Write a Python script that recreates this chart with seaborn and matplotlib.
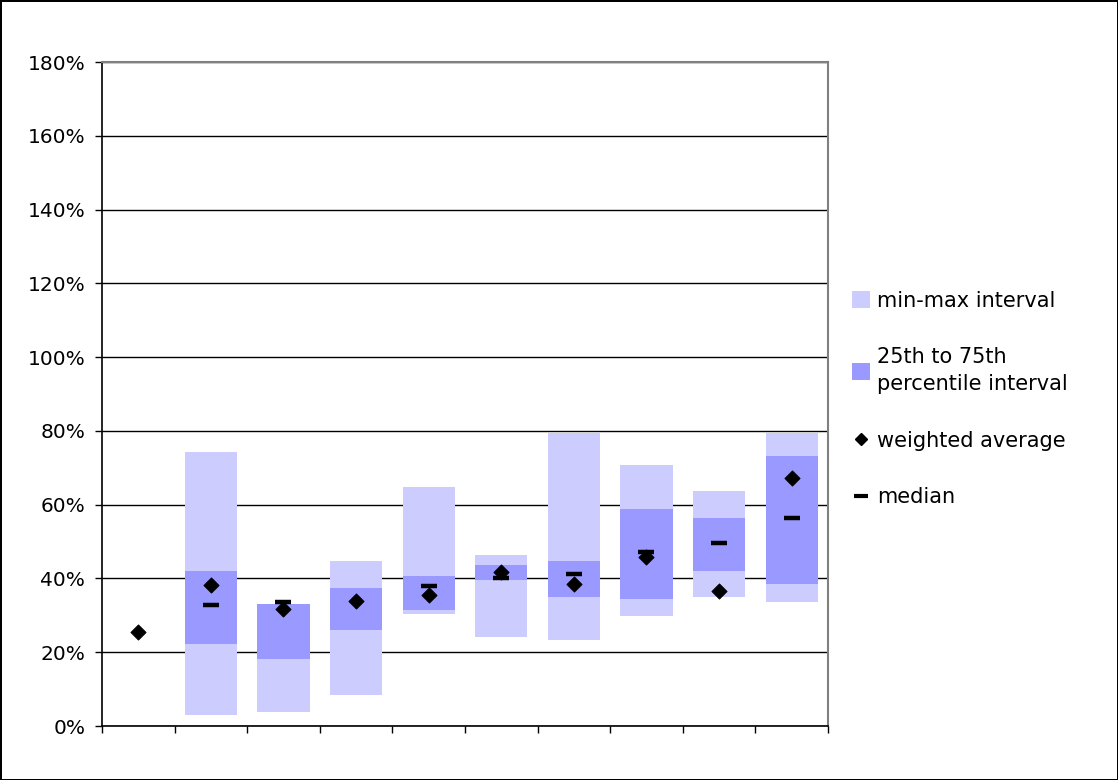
# Floating interval chart: min-max and interquartile ranges with weighted average and median
import numpy as np
import pandas as pd
import seaborn as sns
import matplotlib.pyplot as plt
from matplotlib.patches import Patch
from matplotlib.lines import Line2D
from matplotlib.ticker import PercentFormatter

# values, in percent (NaN = not drawn)
categories = ["c1", "c2", "c3", "c4", "c5", "c6", "c7", "c8", "c9", "c10"]
min_vals = [np.nan, 3.1, 3.8, 8.5, 30.5, 24.0, 23.4, 29.7, 35.1, 33.7]
max_vals = [np.nan, 74.4, 33.1, 44.8, 64.9, 46.4, 79.3, 70.8, 63.8, 79.5]
p25_vals = [np.nan, 22.3, 18.3, 25.9, 31.5, 39.6, 35.1, 34.5, 42.1, 38.5]
p75_vals = [np.nan, 42.1, 33.1, 37.5, 40.7, 43.7, 44.8, 58.9, 56.5, 73.3]
wavg_vals = [25.5, 38.3, 31.7, 34.0, 35.6, 41.7, 38.4, 45.7, 36.6, 67.3]
median_vals = [np.nan, 32.8, 33.5, np.nan, 38.0, 40.0, 41.1, 47.3, 49.7, 56.4]

df = pd.DataFrame({
    "category": categories,
    "min": min_vals, "max": max_vals,
    "p25": p25_vals, "p75": p75_vals,
    "wavg": wavg_vals, "median": median_vals,
})
df["x"] = np.arange(len(df))

light = "#CCCCFF"
dark = "#9999FF"

sns.set_style("white")
plt.rcParams["font.family"] = ["DejaVu Sans"]
plt.rcParams["text.color"] = "black"

fig = plt.figure(figsize=(11.18, 7.80), dpi=100)
ax = fig.add_axes([0.0912, 0.0692, 0.6494, 0.8513])

# floating bars
bw = 0.72
ax.bar(df["x"], df["max"] - df["min"], bottom=df["min"], width=bw,
       color=light, linewidth=0, zorder=2)
ax.bar(df["x"], df["p75"] - df["p25"], bottom=df["p25"], width=bw,
       color=dark, linewidth=0, zorder=3)

# markers
sns.scatterplot(data=df, x="x", y="median", marker="_", s=130, linewidth=3.2,
                color="black", ax=ax, zorder=4, legend=False)
sns.scatterplot(data=df, x="x", y="wavg", marker="D", s=60, color="black",
                edgecolor="black", ax=ax, zorder=5, legend=False)

ax.set_xlim(-0.5, len(df) - 0.5)
ax.set_ylim(0, 180)
ax.set_yticks(np.arange(0, 181, 20))
ax.yaxis.set_major_formatter(PercentFormatter(decimals=0))
ax.set_xticks(np.arange(-0.5, len(df), 1.0))
ax.set_xticklabels([])
ax.set_xlabel("")
ax.set_ylabel("")
ax.tick_params(axis="both", direction="out", length=5, width=1, color="black",
               labelcolor="black", bottom=True, left=True, labelsize=14.5, pad=7)
ax.yaxis.grid(True, color="black", linewidth=1, zorder=0)
ax.set_axisbelow(True)

for side in ["top", "right"]:
    ax.spines[side].set_color("#808080")
    ax.spines[side].set_linewidth(1.5)
for side in ["left", "bottom"]:
    ax.spines[side].set_color("black")
    ax.spines[side].set_linewidth(1.2)

handles = [
    Patch(facecolor=light, edgecolor="none"),
    Patch(facecolor=dark, edgecolor="none"),
    Line2D([], [], marker="D", linestyle="none", color="black", markersize=6),
    Line2D([], [], marker="_", linestyle="none", color="black", markersize=10, markeredgewidth=3),
]
labels = ["min-max interval", "25th to 75th\npercentile interval", "weighted average", "median"]
leg = fig.legend(handles, labels, loc="upper left", bbox_to_anchor=(0.755, 0.638),
                 frameon=False, fontsize=15, labelspacing=1.75, handlelength=0.85,
                 handleheight=0.85, handletextpad=0.35, borderaxespad=0)
leg.get_texts()[1].set_linespacing(1.45)

fig.patch.set_edgecolor("black")
fig.patch.set_linewidth(2)
fig.savefig("out.png", dpi=100)
